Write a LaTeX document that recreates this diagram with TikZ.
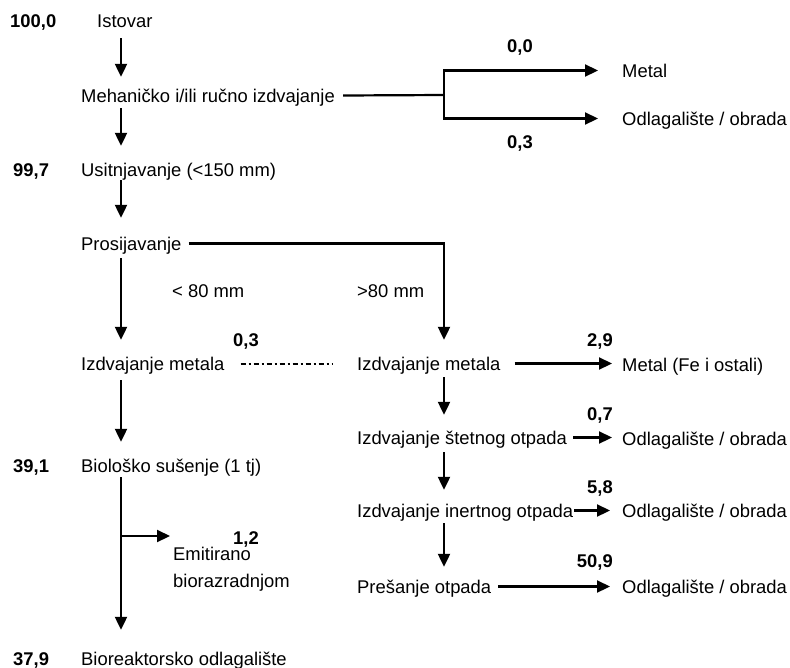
\documentclass[tikz,border=0pt]{standalone}
\usepackage{fontspec}
\setmainfont{Liberation Sans}
\usetikzlibrary{arrows.meta,calc}
\begin{document}
\begin{tikzpicture}[x=1pt,y=-1pt,
  txt/.style={anchor=base west, inner xsep=0pt, inner ysep=0pt, text height=17pt, text depth=4pt, font=\fontsize{18.4}{22}\selectfont},
  num/.style={txt, font=\fontsize{18.4}{22}\selectfont\bfseries},
  numr/.style={num, anchor=base east},
  ln/.style={line width=2.2pt},
  arr/.style={ln, -{Triangle[length=13pt,width=12pt]}},
  dd/.style={line width=2pt, dash pattern=on 5pt off 3pt on 2pt off 3pt}
]
\useasboundingbox (0,0) rectangle (790,667);
\coordinate (colL) at (121,0);
\coordinate (colR) at (444,0);

% left column
\node[num] (n100) at (10,27) {100,0};
\node[txt] (istovar) at (97,27) {Istovar};
\node[txt] (meh) at (81,102) {Mehaničko i/ili ručno izdvajanje};
\node[num] (n997) at (13,176) {99,7};
\node[txt] (usit) at (81,176) {Usitnjavanje (<150 mm)};
\node[txt] (pros) at (81,250) {Prosijavanje};
\node[txt] (lt80) at (172,297) {< 80 mm};
\node[txt] (gt80) at (357,297) {>80 mm};
\node[num] (n03b) at (233,346) {0,3};
\node[txt] (izdL) at (81,370) {Izdvajanje metala};
\node[num] (n391) at (13,472) {39,1};
\node[txt] (bio) at (81,472) {Biološko sušenje (1 tj)};
\node[num, text height=13pt, text depth=1pt] (n12) at (233,544) {1,2};
\node[txt, text height=13.5pt] (emit1) at (173,560) {Emitirano};
\node[txt] (emit2) at (173,587) {biorazradnjom};
\node[num] (n379) at (13,665) {37,9};
\node[txt] (bioreakt) at (81,665) {Bioreaktorsko odlagalište};

% top right
\node[numr] (n00) at (533,52) {0,0};
\node[txt] (metal) at (622,77) {Metal};
\node[txt] (odl1) at (622,125) {Odlagalište / obrada};
\node[numr] (n03a) at (533,148) {0,3};

% right column
\node[txt] (izdR) at (357,370) {Izdvajanje metala};
\node[numr] (n29) at (613,346) {2,9};
\node[txt] (metalfe) at (622,371) {Metal (Fe i ostali)};
\node[txt] (stet) at (357,444) {Izdvajanje štetnog otpada};
\node[numr] (n07) at (613,420) {0,7};
\node[txt] (odl2) at (622,445) {Odlagalište / obrada};
\node[txt] (inert) at (357,517) {Izdvajanje inertnog otpada};
\node[numr] (n58) at (613,493) {5,8};
\node[txt] (odl3) at (622,517) {Odlagalište / obrada};
\node[txt] (pres) at (357,593) {Prešanje otpada};
\node[numr] (n509) at (613,567) {50,9};
\node[txt] (odl4) at (622,593) {Odlagalište / obrada};

% left vertical arrows
\draw[arr, shorten <=7pt, shorten >=8pt] (istovar.south -| colL) -- (meh.north -| colL);
\draw[arr, shorten <=2pt, shorten >=13pt] (meh.south -| colL) -- (usit.north -| colL);
\draw[arr, shorten <=0pt, shorten >=15pt] (usit.south -| colL) -- (pros.north -| colL);
\draw[arr, shorten <=4pt, shorten >=13pt] (pros.south -| colL) -- (izdL.north -| colL);
\draw[arr, shorten <=6pt, shorten >=13pt] (izdL.south -| colL) -- (bio.north -| colL);
\draw[arr, shorten <=1pt, shorten >=18pt] (bio.south -| colL) -- (bioreakt.north -| colL);
\coordinate (brB) at (121,536);
\draw[arr, shorten >=3pt] (brB) -- (brB -| emit1.west);

% top branch
\coordinate (br1) at (444,95);
\draw[ln] ([xshift=8pt]meh.east) -- (br1);
\draw[arr, shorten >=24pt] (br1) |- (metal.west);
\draw[arr, shorten >=24pt] (br1) |- (odl1.west);

% screening
\draw[arr, shorten <=7pt, shorten >=13pt] (pros.east) -| (izdR.north -| colR);
\draw[dd, shorten <=16pt, shorten >=25pt] (izdL.east) -- (izdR.west);

% right column
\draw[arr, shorten <=3pt, shorten >=12pt] (izdR.south -| colR) -- (stet.north -| colR);
\draw[arr, shorten <=4pt, shorten >=10pt] (stet.south -| colR) -- (inert.north -| colR);
\draw[arr, shorten <=2pt, shorten >=9pt] (inert.south -| colR) -- (pres.north -| colR);

\draw[arr, shorten <=14pt, shorten >=10pt] (izdR.east) -- (izdR.east -| metalfe.west);
\draw[arr, shorten <=6pt, shorten >=10pt] (stet.east) -- (stet.east -| odl2.west);
\draw[arr, shorten <=1pt, shorten >=12pt] (inert.east) -- (inert.east -| odl3.west);
\draw[arr, shorten <=7pt, shorten >=12pt] (pres.east) -- (pres.east -| odl4.west);
\end{tikzpicture}
\end{document}
